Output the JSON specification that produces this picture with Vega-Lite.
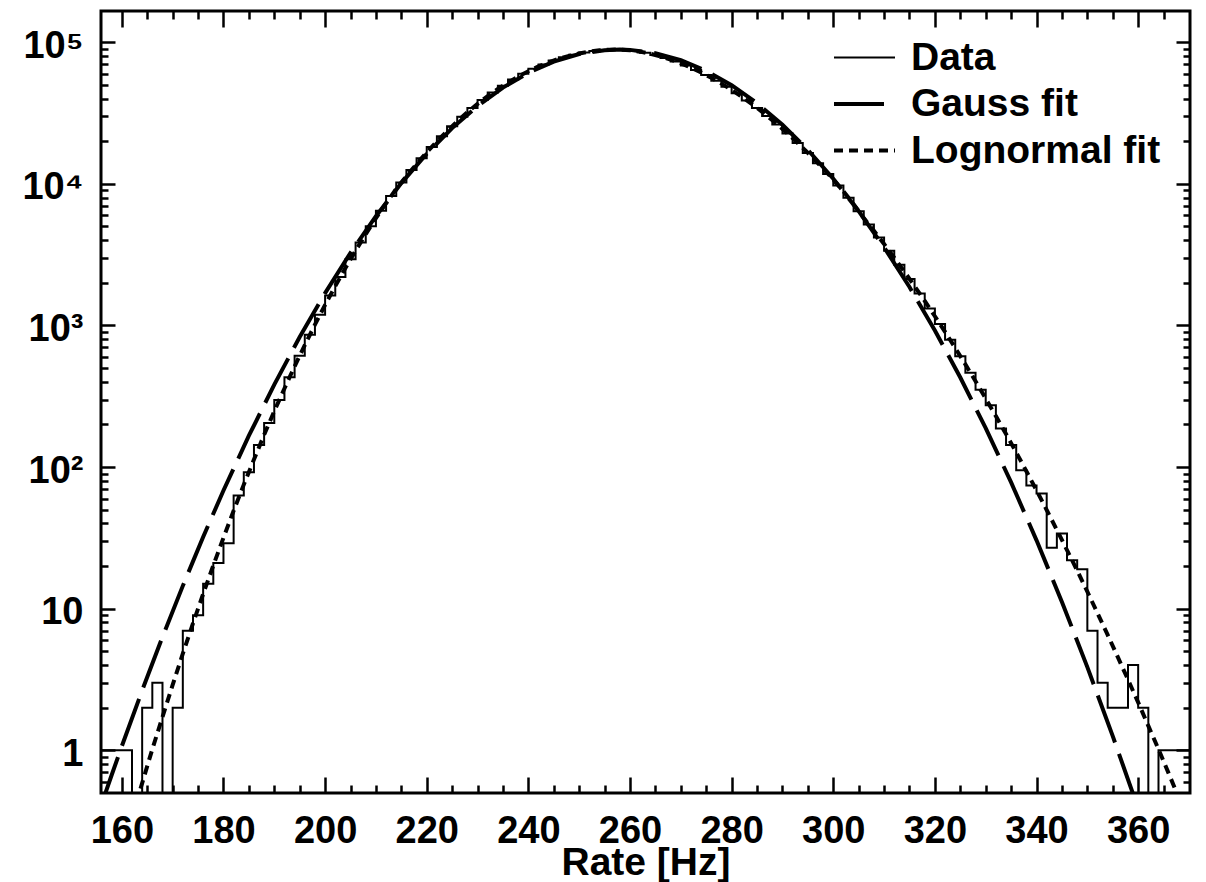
{
  "$schema": "https://vega.github.io/schema/vega-lite/v6.json",
  "width": 1089,
  "height": 782,
  "autosize": {"type": "none"},
  "padding": {"left": 101, "top": 11, "right": 16, "bottom": 89},
  "background": "white",
  "config": {
    "view": {"stroke": "black", "strokeWidth": 3},
    "font": "Liberation Sans",
    "axis": {"grid": false, "domain": false}
  },
  "datasets": {
    "hist": [
      {"rate": 156, "n": 1}, {"rate": 158, "n": 1}, {"rate": 160, "n": 1}, {"rate": 162, "n": 0},
      {"rate": 164, "n": 2}, {"rate": 166, "n": 3}, {"rate": 168, "n": 0}, {"rate": 170, "n": 2},
      {"rate": 172, "n": 7}, {"rate": 174, "n": 9}, {"rate": 176, "n": 15}, {"rate": 178, "n": 21},
      {"rate": 180, "n": 29}, {"rate": 182, "n": 63}, {"rate": 184, "n": 92}, {"rate": 186, "n": 143},
      {"rate": 188, "n": 205}, {"rate": 190, "n": 298}, {"rate": 192, "n": 430}, {"rate": 194, "n": 611},
      {"rate": 196, "n": 858}, {"rate": 198, "n": 1190}, {"rate": 200, "n": 1627}, {"rate": 202, "n": 2198},
      {"rate": 204, "n": 2931}, {"rate": 206, "n": 3859}, {"rate": 208, "n": 5024}, {"rate": 210, "n": 6457},
      {"rate": 212, "n": 8194}, {"rate": 214, "n": 10210}, {"rate": 216, "n": 12500}, {"rate": 218, "n": 15170},
      {"rate": 220, "n": 18230}, {"rate": 222, "n": 21670}, {"rate": 224, "n": 25500}, {"rate": 226, "n": 29710},
      {"rate": 228, "n": 34250}, {"rate": 230, "n": 39080}, {"rate": 232, "n": 44110}, {"rate": 234, "n": 49260},
      {"rate": 236, "n": 54500}, {"rate": 238, "n": 59740}, {"rate": 240, "n": 64870}, {"rate": 242, "n": 69670},
      {"rate": 244, "n": 74130}, {"rate": 246, "n": 78130}, {"rate": 248, "n": 81590}, {"rate": 250, "n": 84500},
      {"rate": 252, "n": 86670}, {"rate": 254, "n": 88060}, {"rate": 256, "n": 88640}, {"rate": 258, "n": 88200},
      {"rate": 260, "n": 86660}, {"rate": 262, "n": 84280}, {"rate": 264, "n": 81120}, {"rate": 266, "n": 77350},
      {"rate": 268, "n": 73070}, {"rate": 270, "n": 68440}, {"rate": 272, "n": 63560}, {"rate": 274, "n": 58560},
      {"rate": 276, "n": 53490}, {"rate": 278, "n": 48460}, {"rate": 280, "n": 43550}, {"rate": 282, "n": 38810},
      {"rate": 284, "n": 34330}, {"rate": 286, "n": 30120}, {"rate": 288, "n": 26200}, {"rate": 290, "n": 22640},
      {"rate": 292, "n": 19420}, {"rate": 294, "n": 16530}, {"rate": 296, "n": 13980}, {"rate": 298, "n": 11730},
      {"rate": 300, "n": 9744}, {"rate": 302, "n": 7973}, {"rate": 304, "n": 6412}, {"rate": 306, "n": 5164},
      {"rate": 308, "n": 4183}, {"rate": 310, "n": 3363}, {"rate": 312, "n": 2685}, {"rate": 314, "n": 2130},
      {"rate": 316, "n": 1679}, {"rate": 318, "n": 1315}, {"rate": 320, "n": 1022}, {"rate": 322, "n": 791},
      {"rate": 324, "n": 607}, {"rate": 326, "n": 463}, {"rate": 328, "n": 351}, {"rate": 330, "n": 273},
      {"rate": 332, "n": 187}, {"rate": 334, "n": 143}, {"rate": 336, "n": 95}, {"rate": 338, "n": 74},
      {"rate": 340, "n": 65}, {"rate": 342, "n": 27}, {"rate": 344, "n": 34}, {"rate": 346, "n": 22},
      {"rate": 348, "n": 19}, {"rate": 350, "n": 7}, {"rate": 352, "n": 3}, {"rate": 354, "n": 2},
      {"rate": 356, "n": 2}, {"rate": 358, "n": 4}, {"rate": 360, "n": 2}, {"rate": 362, "n": 0},
      {"rate": 364, "n": 1}, {"rate": 366, "n": 1}, {"rate": 368, "n": 1}, {"rate": 370, "n": 1}
    ],
    "gauss": [
      {"rate": 156, "v": 0.416}, {"rate": 158, "v": 0.67}, {"rate": 160, "v": 1.07}, {"rate": 164, "v": 2.65},
      {"rate": 168, "v": 6.32}, {"rate": 172, "v": 14.5}, {"rate": 176, "v": 32.1}, {"rate": 180, "v": 68.3},
      {"rate": 185, "v": 166.5}, {"rate": 190, "v": 382.6}, {"rate": 195, "v": 828.8}, {"rate": 200, "v": 1692},
      {"rate": 205, "v": 3258}, {"rate": 210, "v": 5907}, {"rate": 215, "v": 10110}, {"rate": 220, "v": 16290},
      {"rate": 225, "v": 24740}, {"rate": 230, "v": 35420}, {"rate": 235, "v": 47810}, {"rate": 240, "v": 60840},
      {"rate": 245, "v": 72900}, {"rate": 250, "v": 82460}, {"rate": 255, "v": 87830}, {"rate": 258, "v": 88700},
      {"rate": 260, "v": 88220}, {"rate": 265, "v": 83530}, {"rate": 270, "v": 74540}, {"rate": 275, "v": 62690},
      {"rate": 280, "v": 49670}, {"rate": 285, "v": 37120}, {"rate": 290, "v": 26140}, {"rate": 295, "v": 17360},
      {"rate": 300, "v": 10870}, {"rate": 305, "v": 6406}, {"rate": 310, "v": 3561}, {"rate": 315, "v": 1867},
      {"rate": 320, "v": 922}, {"rate": 325, "v": 429}, {"rate": 330, "v": 188.5}, {"rate": 335, "v": 77.9},
      {"rate": 340, "v": 30.4}, {"rate": 345, "v": 11.17}, {"rate": 350, "v": 3.87}, {"rate": 355, "v": 1.26},
      {"rate": 360, "v": 0.389}
    ],
    "lognorm": [
      {"rate": 162, "v": 0.336}, {"rate": 164, "v": 0.587}, {"rate": 166, "v": 1.02}, {"rate": 168, "v": 1.72},
      {"rate": 170, "v": 2.9}, {"rate": 172, "v": 4.82}, {"rate": 174, "v": 7.87}, {"rate": 176, "v": 12.7},
      {"rate": 178, "v": 20.2}, {"rate": 180, "v": 31.7}, {"rate": 182, "v": 49.2}, {"rate": 184, "v": 75.2},
      {"rate": 186, "v": 113}, {"rate": 188, "v": 169}, {"rate": 190, "v": 248}, {"rate": 192, "v": 359},
      {"rate": 194, "v": 514}, {"rate": 196, "v": 726}, {"rate": 198, "v": 1014}, {"rate": 200, "v": 1396},
      {"rate": 202, "v": 1897}, {"rate": 204, "v": 2547}, {"rate": 206, "v": 3373}, {"rate": 208, "v": 4416},
      {"rate": 210, "v": 5715}, {"rate": 212, "v": 7295}, {"rate": 214, "v": 9204}, {"rate": 216, "v": 11320},
      {"rate": 218, "v": 13800}, {"rate": 220, "v": 16670}, {"rate": 222, "v": 19930}, {"rate": 224, "v": 23560},
      {"rate": 226, "v": 27590}, {"rate": 228, "v": 31990}, {"rate": 230, "v": 36670}, {"rate": 232, "v": 41650},
      {"rate": 234, "v": 46710}, {"rate": 236, "v": 51940}, {"rate": 238, "v": 57190}, {"rate": 240, "v": 62410},
      {"rate": 242, "v": 67420}, {"rate": 244, "v": 71990}, {"rate": 246, "v": 76330}, {"rate": 248, "v": 79980},
      {"rate": 250, "v": 83230}, {"rate": 252, "v": 85780}, {"rate": 254, "v": 87560}, {"rate": 256, "v": 88560},
      {"rate": 258, "v": 88720}, {"rate": 260, "v": 87610}, {"rate": 262, "v": 85730}, {"rate": 264, "v": 82860},
      {"rate": 266, "v": 79410}, {"rate": 268, "v": 75350}, {"rate": 270, "v": 70860}, {"rate": 272, "v": 66100},
      {"rate": 274, "v": 61120}, {"rate": 276, "v": 56100}, {"rate": 278, "v": 51000}, {"rate": 280, "v": 46040},
      {"rate": 282, "v": 41190}, {"rate": 284, "v": 36560}, {"rate": 286, "v": 32230}, {"rate": 288, "v": 28140},
      {"rate": 290, "v": 24400}, {"rate": 292, "v": 21010}, {"rate": 294, "v": 17950}, {"rate": 296, "v": 15230},
      {"rate": 298, "v": 12830}, {"rate": 300, "v": 10720}, {"rate": 302, "v": 8857}, {"rate": 304, "v": 7178},
      {"rate": 306, "v": 5728}, {"rate": 308, "v": 4656}, {"rate": 310, "v": 3758}, {"rate": 312, "v": 3010},
      {"rate": 314, "v": 2396}, {"rate": 316, "v": 1894}, {"rate": 318, "v": 1489}, {"rate": 320, "v": 1161},
      {"rate": 322, "v": 900}, {"rate": 324, "v": 694}, {"rate": 326, "v": 531}, {"rate": 328, "v": 404},
      {"rate": 330, "v": 305}, {"rate": 332, "v": 229}, {"rate": 334, "v": 171}, {"rate": 336, "v": 127},
      {"rate": 338, "v": 93.5}, {"rate": 340, "v": 68.5}, {"rate": 342, "v": 49.8}, {"rate": 344, "v": 36},
      {"rate": 346, "v": 25.9}, {"rate": 348, "v": 18.6}, {"rate": 350, "v": 13.2}, {"rate": 352, "v": 9.3},
      {"rate": 354, "v": 6.53}, {"rate": 356, "v": 4.55}, {"rate": 358, "v": 3.16}, {"rate": 360, "v": 2.18},
      {"rate": 362, "v": 1.49}, {"rate": 364, "v": 1.02}, {"rate": 366, "v": 0.688}, {"rate": 368, "v": 0.463},
      {"rate": 370, "v": 0.31}
    ]
  },
  "resolve": {"axis": {"x": "independent", "y": "independent"}},
  "layer": [
    {
      "data": {"name": "hist"},
      "transform": [{"calculate": "max(datum.n, 0.5)", "as": "yv"}],
      "mark": {"type": "line", "interpolate": "step-after", "clip": true, "strokeWidth": 2, "color": "black"},
      "encoding": {
        "x": {
          "field": "rate", "type": "quantitative",
          "scale": {"domain": [155.9, 370.2], "nice": false, "zero": false},
          "axis": {
            "values": [160, 180, 200, 220, 240, 260, 280, 300, 320, 340, 360],
            "ticks": false, "format": "d",
            "labelFontSize": 38, "labelFontWeight": "bold", "labelColor": "black",
            "labelPadding": 49, "labelBaseline": "alphabetic", "labelFlush": false, "labelOverlap": false,
            "title": "Rate [Hz]", "titleFontSize": 39, "titleFontWeight": "bold", "titleColor": "black",
            "titleBaseline": "alphabetic", "titleY": 81
          }
        },
        "y": {
          "field": "yv", "type": "quantitative",
          "scale": {"type": "log", "domain": [0.5, 166000], "nice": false},
          "axis": {
            "values": [1, 10, 100, 1000, 10000, 100000],
            "ticks": false,
            "labelExpr": "datum.value == 1 ? '1' : datum.value == 10 ? '10' : datum.value == 100 ? '10²' : datum.value == 1000 ? '10³' : datum.value == 10000 ? '10⁴' : '10⁵'",
            "labelFontSize": 38, "labelFontWeight": "bold", "labelColor": "black",
            "labelPadding": 18, "labelBaseline": "middle", "labelOffset": 4,
            "labelFlush": false, "labelOverlap": false, "title": null
          }
        },
        "strokeDash": {
          "datum": "Data", "type": "nominal",
          "scale": {"domain": ["Data", "Gauss fit", "Lognormal fit"], "range": [[1, 0], [50, 12], [9, 6]]},
          "legend": {
            "orient": "none", "legendX": 744, "legendY": 27, "title": null,
            "symbolType": "stroke", "symbolSize": 3721, "symbolStrokeColor": "black", "symbolStrokeWidth": 3.5,
            "labelFontSize": 39, "labelFontWeight": "bold", "labelColor": "black", "labelOffset": 27,
            "labelLimit": 400, "rowPadding": 6.5, "padding": 0,
            "encode": {"symbols": {"update": {"strokeWidth": {"signal": "datum.label === 'Data' ? 2 : 4"}}}}
          }
        }
      }
    },
    {
      "data": {"name": "gauss"},
      "mark": {"type": "line", "clip": true, "strokeWidth": 4, "color": "black"},
      "encoding": {
        "x": {
          "field": "rate", "type": "quantitative",
          "scale": {"domain": [155.9, 370.2], "nice": false, "zero": false},
          "axis": {
            "orient": "bottom",
            "values": [160, 165, 170, 175, 180, 185, 190, 195, 200, 205, 210, 215, 220, 225, 230, 235, 240, 245, 250, 255, 260, 265, 270, 275, 280, 285, 290, 295, 300, 305, 310, 315, 320, 325, 330, 335, 340, 345, 350, 355, 360, 365],
            "labels": false, "title": null, "tickColor": "black", "tickWidth": 2.5,
            "tickSize": {"condition": {"test": "datum.value % 20 === 0", "value": -16}, "value": -8}
          }
        },
        "y": {
          "field": "v", "type": "quantitative",
          "scale": {"type": "log", "domain": [0.5, 166000], "nice": false},
          "axis": {
            "orient": "left",
            "values": [0.6, 0.7, 0.8, 0.9, 1, 2, 3, 4, 5, 6, 7, 8, 9, 10, 20, 30, 40, 50, 60, 70, 80, 90, 100, 200, 300, 400, 500, 600, 700, 800, 900, 1000, 2000, 3000, 4000, 5000, 6000, 7000, 8000, 9000, 10000, 20000, 30000, 40000, 50000, 60000, 70000, 80000, 90000, 100000],
            "labels": false, "title": null, "tickColor": "black", "tickWidth": 2.5,
            "tickSize": {"condition": {"test": "abs(log(datum.value)/LN10 - round(log(datum.value)/LN10)) < 0.001", "value": -14}, "value": -7}
          }
        },
        "strokeDash": {"datum": "Gauss fit", "type": "nominal"}
      }
    },
    {
      "data": {"name": "lognorm"},
      "mark": {"type": "line", "clip": true, "strokeWidth": 4, "color": "black"},
      "encoding": {
        "x": {
          "field": "rate", "type": "quantitative",
          "scale": {"domain": [155.9, 370.2], "nice": false, "zero": false},
          "axis": {
            "orient": "top",
            "values": [160, 165, 170, 175, 180, 185, 190, 195, 200, 205, 210, 215, 220, 225, 230, 235, 240, 245, 250, 255, 260, 265, 270, 275, 280, 285, 290, 295, 300, 305, 310, 315, 320, 325, 330, 335, 340, 345, 350, 355, 360, 365],
            "labels": false, "title": null, "tickColor": "black", "tickWidth": 2.5,
            "tickSize": {"condition": {"test": "datum.value % 20 === 0", "value": -16}, "value": -8}
          }
        },
        "y": {
          "field": "v", "type": "quantitative",
          "scale": {"type": "log", "domain": [0.5, 166000], "nice": false},
          "axis": {
            "orient": "right",
            "values": [0.6, 0.7, 0.8, 0.9, 1, 2, 3, 4, 5, 6, 7, 8, 9, 10, 20, 30, 40, 50, 60, 70, 80, 90, 100, 200, 300, 400, 500, 600, 700, 800, 900, 1000, 2000, 3000, 4000, 5000, 6000, 7000, 8000, 9000, 10000, 20000, 30000, 40000, 50000, 60000, 70000, 80000, 90000, 100000],
            "labels": false, "title": null, "tickColor": "black", "tickWidth": 2.5,
            "tickSize": {"condition": {"test": "abs(log(datum.value)/LN10 - round(log(datum.value)/LN10)) < 0.001", "value": -14}, "value": -7}
          }
        },
        "strokeDash": {"datum": "Lognormal fit", "type": "nominal"}
      }
    }
  ]
}
